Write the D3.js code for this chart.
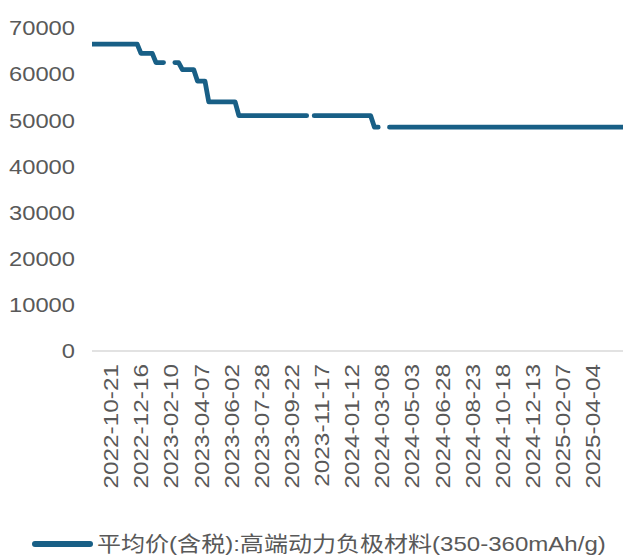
<!DOCTYPE html>
<html>
<head>
<meta charset="utf-8">
<title>高端动力负极材料 平均价</title>
<script src="https://d3js.org/d3.v7.min.js"></script>
<style>
  body { margin: 0; background: #fff; }
  text { font-family: Arial, "Liberation Sans", "Noto Sans CJK SC", sans-serif; fill: #595959; }
</style>
</head>
<body>
<script>
  // Weekly data, first week of the series
  var firstDate = "2022-09-16";

  // Labels shown on the x axis
  var tickLabels = ["2022-10-21", "2022-12-16", "2023-02-10", "2023-04-07", "2023-06-02",
    "2023-07-28", "2023-09-22", "2023-11-17", "2024-01-12", "2024-03-08", "2024-05-03",
    "2024-06-28", "2024-08-23", "2024-10-18", "2024-12-13", "2025-02-07", "2025-04-04"];

  var yTicks = [0, 10000, 20000, 30000, 40000, 50000, 60000, 70000];

  var seriesName = "平均价(含税):高端动力负极材料(350-360mAh/g)";

  // Weekly price, null = no quote that week
  var values = [
    66500, 66500, 66500, 66500, 66500, 66500, 66500, 66500, 66500, 66500,
    66500, 66500, 66500, 64500, 64500, 64500, 64500, 62500, 62500, 62500,
    null,  null,  62500, 62500, 61000, 61000, 61000, 61000, 58500, 58500,
    58500, 54000, 54000, 54000, 54000, 54000, 54000, 54000, 54000, 51000,
    51000, 51000, 51000, 51000, 51000, 51000, 51000, 51000, 51000, 51000,
    51000, 51000, 51000, 51000, 51000, 51000, 51000, 51000, null,  51000,
    51000, 51000, 51000, 51000, 51000, 51000, 51000, 51000, 51000, 51000,
    51000, 51000, 51000, 51000, 51000, 48500, 48500, null,  null,  48500,
    48500, 48500, 48500, 48500, 48500, 48500, 48500, 48500, 48500, 48500,
    48500, 48500, 48500, 48500, 48500, 48500, 48500, 48500, 48500, 48500,
    48500, 48500, 48500, 48500, 48500, 48500, 48500, 48500, 48500, 48500,
    48500, 48500, 48500, 48500, 48500, 48500, 48500, 48500, 48500, 48500,
    48500, 48500, 48500, 48500, 48500, 48500, 48500, 48500, 48500, 48500,
    48500, 48500, 48500, 48500, 48500, 48500, 48500, 48500, 48500, 48500,
    48500, 48500
  ];

  var W = 630, H = 556;
  var margin = {top: 28, right: 7, bottom: 205, left: 92};
  var lineColor = "#185f86";

  // Build the weekly date categories
  var fmt = d3.utcFormat("%Y-%m-%d");
  var start = d3.utcParse("%Y-%m-%d")(firstDate);
  var dates = values.map(function(v, i) { return fmt(d3.utcDay.offset(start, 7 * i)); });

  var svg = d3.select("body").append("svg")
    .attr("width", W)
    .attr("height", H);

  var x = d3.scalePoint()
    .domain(dates)
    .range([margin.left, W - margin.right])
    .padding(0);

  var y = d3.scaleLinear()
    .domain([0, 70000])
    .range([H - margin.bottom, margin.top]);

  // clip the line to the plot area
  svg.append("clipPath")
    .attr("id", "plot")
    .append("rect")
    .attr("x", margin.left)
    .attr("y", 0)
    .attr("width", W - margin.left - margin.right)
    .attr("height", H - margin.bottom);

  // x axis line
  svg.append("line")
    .attr("x1", margin.left)
    .attr("x2", W - margin.right)
    .attr("y1", y(0))
    .attr("y2", y(0))
    .attr("stroke", "#d9d9d9")
    .attr("stroke-width", 1.5);

  // y tick labels
  svg.selectAll(".ylab")
    .data(yTicks)
    .enter().append("text")
    .attr("class", "ylab")
    .attr("transform", function(d) { return "translate(75," + y(d) + ") scale(1.13,1)"; })
    .attr("dy", "0.35em")
    .attr("text-anchor", "end")
    .style("font-size", "21px")
    .text(function(d) { return d; });

  // x tick labels, rotated
  svg.selectAll(".xlab")
    .data(tickLabels)
    .enter().append("text")
    .attr("class", "xlab")
    .attr("transform", function(d) { return "translate(" + x(d) + "," + (y(0) + 13) + ") rotate(-90) scale(1.16,1)"; })
    .attr("dy", "0.35em")
    .attr("text-anchor", "end")
    .style("font-size", "21px")
    .text(function(d) { return d; });

  // price line
  var line = d3.line()
    .defined(function(d) { return d.v != null; })
    .x(function(d) { return x(d.date); })
    .y(function(d) { return y(d.v); });

  var rows = dates.map(function(d, i) { return {date: d, v: values[i]}; });

  svg.append("path")
    .datum(rows)
    .attr("clip-path", "url(#plot)")
    .attr("fill", "none")
    .attr("stroke", lineColor)
    .attr("stroke-width", 4.8)
    .attr("stroke-linecap", "round")
    .attr("stroke-linejoin", "round")
    .attr("d", line);

  // legend
  svg.append("line")
    .attr("x1", 35)
    .attr("x2", 90)
    .attr("y1", 544)
    .attr("y2", 544)
    .attr("stroke", lineColor)
    .attr("stroke-width", 6)
    .attr("stroke-linecap", "round");

  svg.append("text")
    .attr("transform", "translate(97,544) scale(1.145,1)")
    .attr("dy", "0.35em")
    .style("font-size", "21px")
    .text(seriesName);
</script>
</body>
</html>
